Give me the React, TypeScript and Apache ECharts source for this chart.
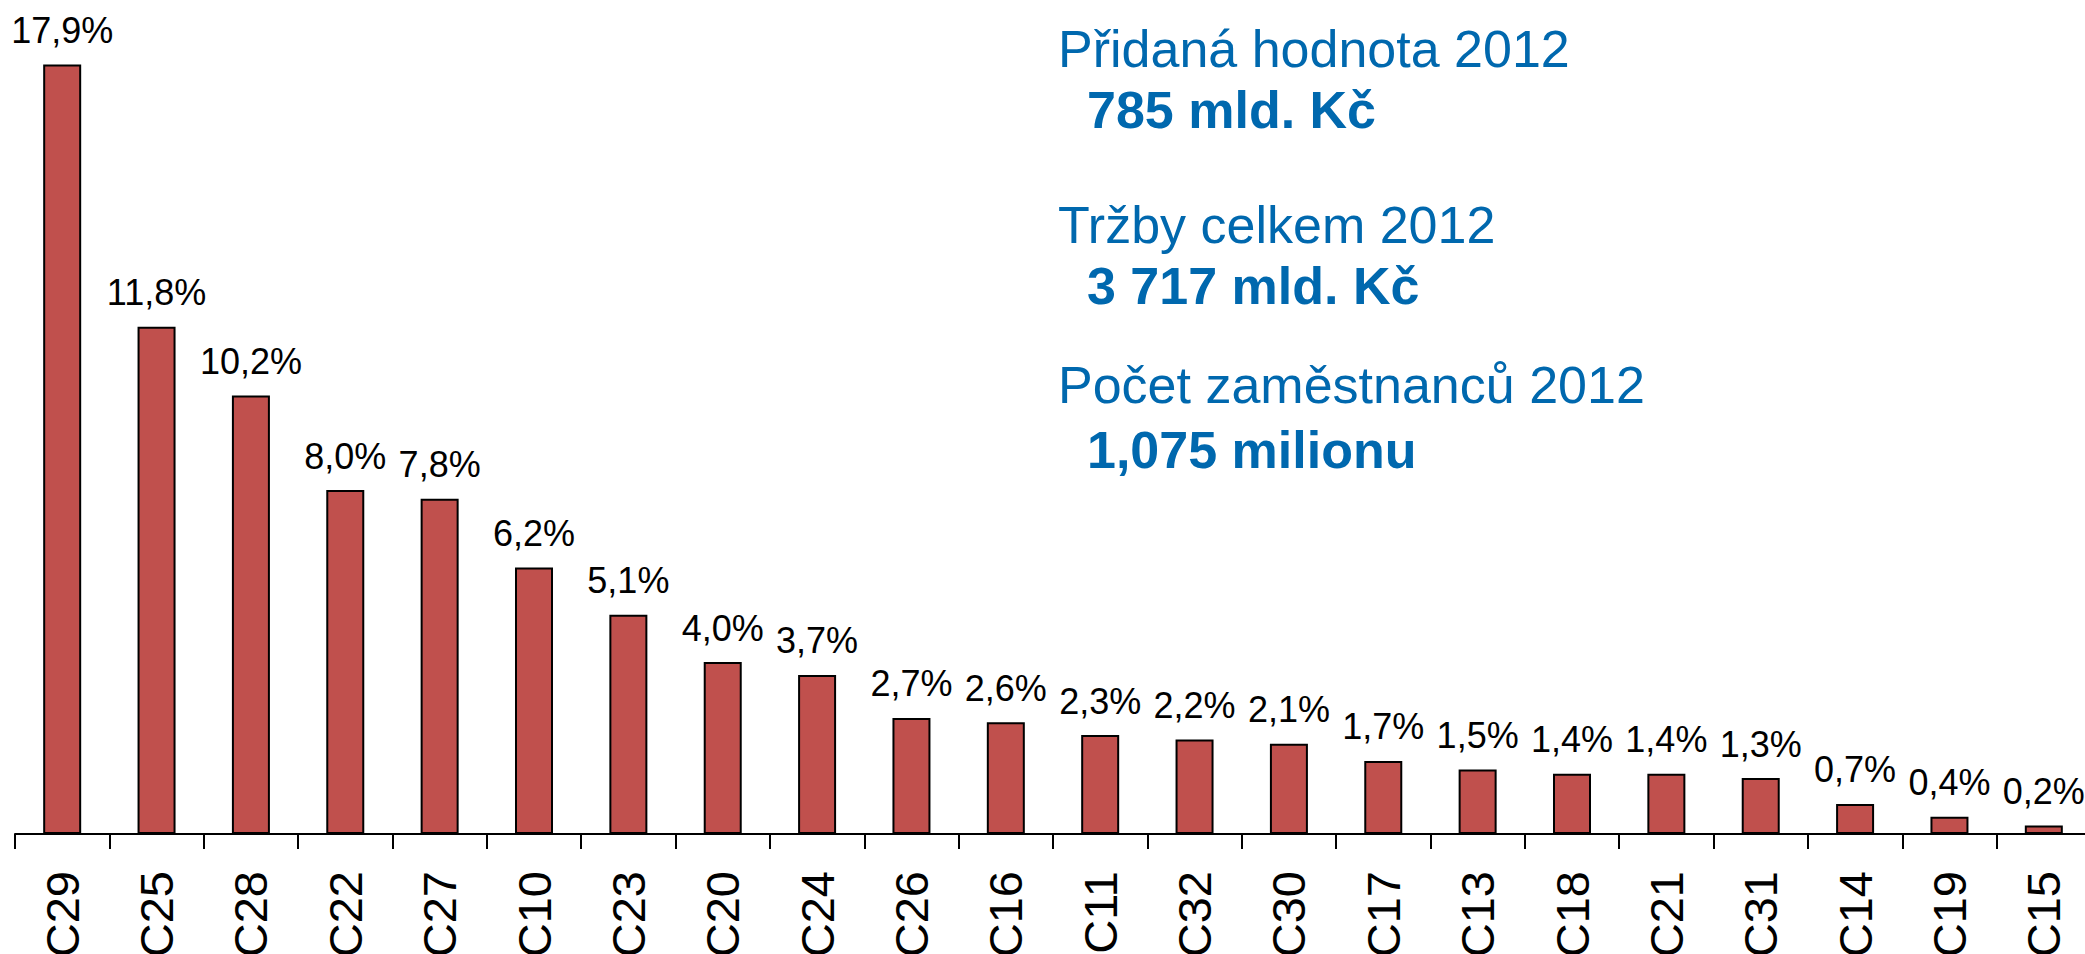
import React, { useEffect, useRef } from "react";
import * as echarts from "echarts";

const categories = ["C29","C25","C28","C22","C27","C10","C23","C20","C24","C26","C16","C11","C32","C30","C17","C13","C18","C21","C31","C14","C19","C15"];
const shares = [17.9,11.8,10.2,8.0,7.8,6.2,5.1,4.0,3.7,2.7,2.6,2.3,2.2,2.1,1.7,1.5,1.4,1.4,1.3,0.7,0.4,0.2];
const infoLines = [
  { text: "Přidaná hodnota 2012", bold: false },
  { text: "785 mld. Kč", bold: true },
  { text: "Tržby celkem 2012", bold: false },
  { text: "3 717 mld. Kč", bold: true },
  { text: "Počet zaměstnanců 2012", bold: false },
  { text: "1,075 milionu", bold: true },
];
const infoY = [48.5, 110, 224.7, 286, 384.7, 450];

const FONT = "'Liberation Sans', Arial, sans-serif";
const BLUE = "#0068AE";

export default function App() {
  const ref = useRef<HTMLDivElement>(null);
  useEffect(() => {
    if (!ref.current) return;
    const chart = echarts.init(ref.current, null, { renderer: "svg" });
    chart.setOption({
      animation: false,
      backgroundColor: "#ffffff",
      grid: { left: 15, top: 0, width: 2076, height: 834, containLabel: false, outerBoundsMode: "none" },
      xAxis: {
        type: "category",
        data: categories,
        boundaryGap: true,
        axisLine: { show: true, lineStyle: { color: "#000", width: 2 } },
        axisTick: { show: true, length: 15, lineStyle: { color: "#000", width: 2 } },
        axisLabel: { rotate: 90, margin: 37, fontSize: 47, color: "#000", fontFamily: FONT, interval: 0 },
      },
      yAxis: { type: "value", min: 0, max: 19.4, show: false, splitLine: { show: false } },
      series: [
        {
          type: "bar",
          data: shares,
          barWidth: 38,
          itemStyle: { color: "#C0504D", borderColor: "#000", borderWidth: 2 },
          label: {
            show: true,
            position: "top",
            distance: 16,
            fontSize: 36,
            color: "#000",
            fontFamily: FONT,
            formatter: (p: any) => p.value.toFixed(1).replace(".", ",") + "%",
          },
        },
      ],
      graphic: infoLines.map((l, i) => ({
        type: "text",
        x: l.bold ? 1087 : 1058,
        y: infoY[i],
        style: {
          text: l.text,
          fill: BLUE,
          fontSize: 52,
          fontWeight: l.bold ? "bold" : "normal",
          fontFamily: FONT,
          verticalAlign: "middle",
          align: "left",
        },
      })),
    });
    return () => chart.dispose();
  }, []);
  return <div ref={ref} style={{ position: "fixed", left: 0, top: 0, width: 2085, height: 954 }} />;
}
